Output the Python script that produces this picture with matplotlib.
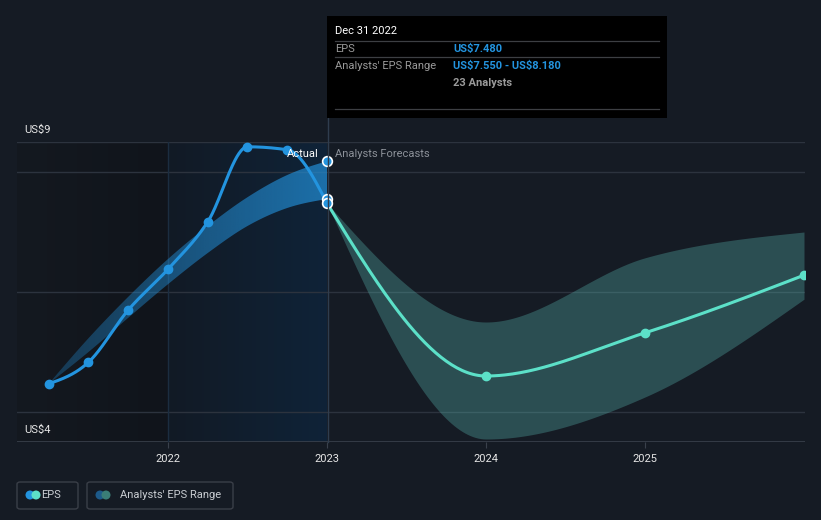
import numpy as np
import matplotlib
matplotlib.use("Agg")
import matplotlib.pyplot as plt
from matplotlib.patches import FancyBboxPatch, Rectangle, Ellipse
from matplotlib.lines import Line2D
from matplotlib.colors import LinearSegmentedColormap, to_rgb

plt.rcParams['font.family'] = ['Roboto', 'DejaVu Sans']

# ---------------- data ----------------
actual_x = [2021.25, 2021.5, 2021.75, 2022.0, 2022.25, 2022.5, 2022.75, 2023.0]
actual_eps = [4.47, 4.83, 5.70, 6.38, 7.17, 8.42, 8.37, 7.48]

past_range_x = [2021.25, 2021.5, 2021.75, 2022.0, 2022.25, 2022.5, 2022.75, 2023.0]
past_range_low = [4.47, 5.00, 5.57, 6.13, 6.65, 7.10, 7.40, 7.55]
past_range_high = [4.47, 5.23, 5.92, 6.55, 7.10, 7.58, 7.95, 8.18]

fc_x = [2023.0, 2024.0, 2025.0, 2026.0]
fc_eps = [7.48, 4.60, 5.32, 6.28]
fc_low = [7.48, 3.55, 4.25, 5.88]
fc_high = [7.48, 5.50, 6.57, 7.00]

year_ticks = [2022, 2023, 2024, 2025]
grid_vals = [4, 6, 8, 8.5]

tooltip_date = "Dec 31 2022"
tooltip_eps = "US$7.480"
tooltip_range = "US$7.550 - US$8.180"
tooltip_analysts = "23 Analysts"

# ---------------- helpers ----------------
def monotone(x, y, n=60):
    x = np.asarray(x, float); y = np.asarray(y, float)
    k = len(x)
    h = np.diff(x); s = np.diff(y) / h
    m = np.zeros(k)
    for i in range(1, k - 1):
        h0, h1, s0, s1 = h[i-1], h[i], s[i-1], s[i]
        p = (s0 * h1 + s1 * h0) / (h0 + h1)
        m[i] = (np.sign(s0) + np.sign(s1)) * min(abs(s0), abs(s1), 0.5 * abs(p))
    m[0] = (3 * s[0] - m[1]) / 2 if k > 2 else s[0]
    m[-1] = (3 * s[-1] - m[-2]) / 2 if k > 2 else s[-1]
    xs, ys = [], []
    for i in range(k - 1):
        t = np.linspace(0, 1, n, endpoint=(i == k - 2))
        h00 = 2*t**3 - 3*t**2 + 1
        h10 = t**3 - 2*t**2 + t
        h01 = -2*t**3 + 3*t**2
        h11 = t**3 - t**2
        xs.append(x[i] + t * h[i])
        ys.append(h00*y[i] + h10*h[i]*m[i] + h01*y[i+1] + h11*h[i]*m[i+1])
    return np.concatenate(xs), np.concatenate(ys)

W, H = 821, 520
def fx(px):
    return px / W
def fy(py):
    return 1 - py / H

BG = '#151b24'
BLUE = '#2394df'
TEAL = '#5ce0c8'

fig = plt.figure(figsize=(W/100, H/100), dpi=100, facecolor=BG)
ax = fig.add_axes([fx(17), fy(442), (805-17)/W, 300/H])
ax.set_facecolor(BG)
x0 = 2022 + (17 - 168) / 159
x1 = 2023 + (805 - 327) / 159
ax.set_xlim(x0, x1)
ax.set_ylim(3.5, 8.5)
for sp in ax.spines.values():
    sp.set_visible(False)

# background regions
grad = np.linspace(0, 1, 256).reshape(1, -1)
cm_dark = LinearSegmentedColormap.from_list('d', ['#141920', '#10141b'])
ax.imshow(grad, extent=[x0, 2022, 3.5, 8.5], aspect='auto', cmap=cm_dark, zorder=0)
cm_hi = LinearSegmentedColormap.from_list('h', ['#121a25', '#0f2338'])
ax.imshow(grad, extent=[2022, 2023, 3.5, 8.5], aspect='auto', cmap=cm_hi, zorder=0)

# grid lines
for g in grid_vals:
    ax.axhline(g, color='#2c333e', lw=1, zorder=1)
ax.axhline(3.5, color='#3a414c', lw=1.2, zorder=1)
ax.axvline(2022, color='#1b2d40', lw=1, zorder=1)

# ticks
ax.set_xticks(year_ticks)
ax.set_xticklabels([str(t) for t in year_ticks], color='#e6e6e6', fontsize=8)
ax.tick_params(axis='x', length=4, color='#3a414c', pad=5)
ax.set_yticks([])
ax.set_autoscale_on(False)

# past range band with horizontal opacity gradient
bx, bl = monotone(past_range_x, past_range_low)
_, bh = monotone(past_range_x, past_range_high)
poly = ax.fill_between(bx, bl, bh, facecolor='none', edgecolor='none', lw=0, zorder=2)
rgba = np.zeros((2, 256, 4))
rgba[..., :3] = to_rgb(BLUE)
rgba[..., 3] = np.linspace(0.28, 0.68, 256)[None, :]
im = ax.imshow(rgba, extent=[past_range_x[0], past_range_x[-1], 3.5, 8.5], aspect='auto', zorder=2,
               interpolation='bilinear')
im.set_clip_path(poly.get_paths()[0], transform=ax.transData)

# forecast range band
fx_, fl = monotone(fc_x, fc_low)
_, fh = monotone(fc_x, fc_high)
ax.fill_between(fx_, fl, fh, color='#5ec5bd', alpha=0.3, lw=0, zorder=2)

# lines
lx, ly = monotone(actual_x, actual_eps)
ax.plot(lx, ly, color=BLUE, lw=2.2, zorder=4, solid_capstyle='round')
ax.plot(actual_x[:-1], actual_eps[:-1], 'o', color=BLUE, ms=6, zorder=5)

tx, ty = monotone(fc_x, fc_eps)
ax.plot(tx, ty, color=TEAL, lw=2.2, zorder=4, solid_capstyle='round')
ax.plot(fc_x[1:], fc_eps[1:], 'o', color=TEAL, ms=6, zorder=5)

# points at the cursor date
for v in [past_range_high[-1], past_range_low[-1], actual_eps[-1]]:
    ax.plot([2023.0], [v], 'o', color=BLUE, mec='white', mew=1.2, ms=7, zorder=6, clip_on=False)

# vertical cursor line (figure coords)
fig.add_artist(Line2D([fx(327.5), fx(327.5)], [fy(118), fy(442)], color='#2f3d4e', lw=1, zorder=3))

# labels
fig.text(fx(24), fy(130), 'US$9', color='#e6e6e6', fontsize=8, va='center', ha='left', parse_math=False)
fig.text(fx(24), fy(430), 'US$4', color='#e6e6e6', fontsize=8, va='center', ha='left', parse_math=False)
fig.text(fx(319), fy(154), 'Actual', color='white', fontsize=8, va='center', ha='right', zorder=7)
fig.text(fx(335), fy(154), 'Analysts Forecasts', color='#8c9199', fontsize=8, va='center', ha='left', zorder=7)

# tooltip
fig.add_artist(Rectangle((fx(327), fy(118)), (667-327)/W, (118-16)/H, transform=fig.transFigure,
                         facecolor='black', edgecolor='none', zorder=8))
for yy in [41, 57, 109]:
    fig.add_artist(Line2D([fx(335), fx(659)], [fy(yy), fy(yy)], color='#3d3f43', lw=0.9, zorder=9))
fig.text(fx(335), fy(31), tooltip_date, color='white', fontsize=8, va='center', ha='left', zorder=10)
fig.text(fx(335), fy(49), 'EPS', color='#9a9a9a', fontsize=8, va='center', ha='left', zorder=10)
fig.text(fx(453), fy(49), tooltip_eps, color=BLUE, fontsize=8, fontweight='bold', va='center', ha='left',
         zorder=10, parse_math=False)
fig.text(fx(335), fy(66), "Analysts' EPS Range", color='#9a9a9a', fontsize=8, va='center', ha='left', zorder=10)
fig.text(fx(453), fy(66), tooltip_range, color=BLUE, fontsize=8, fontweight='bold', va='center', ha='left',
         zorder=10, parse_math=False)
fig.text(fx(453), fy(83), tooltip_analysts, color='#9a9a9a', fontsize=8, fontweight='bold', va='center',
         ha='left', zorder=10)

# legend
def legend_box(xa, xb, c1, c2, cx1, cx2, label, tx_):
    fig.add_artist(FancyBboxPatch((fx(xa), fy(509)), (xb-xa)/W, (509-482)/H,
                                  boxstyle='round,pad=0,rounding_size=0.004', transform=fig.transFigure,
                                  facecolor='none', edgecolor='#3a3f48', lw=1))
    for c, cx in [(c1, cx1), (c2, cx2)]:
        fig.add_artist(Ellipse((fx(cx), fy(495)), 9/W, 9/H, transform=fig.transFigure,
                               facecolor=c, edgecolor='none'))
    fig.text(fx(tx_), fy(495), label, color='#c9cdd2', fontsize=8, va='center', ha='left')

legend_box(17, 78, BLUE, TEAL, 30, 36, 'EPS', 41)
legend_box(87, 233, '#1d5a8a', '#3a7d77', 100, 106, "Analysts' EPS Range", 120)

fig.savefig('out.png', dpi=100, facecolor=BG)
